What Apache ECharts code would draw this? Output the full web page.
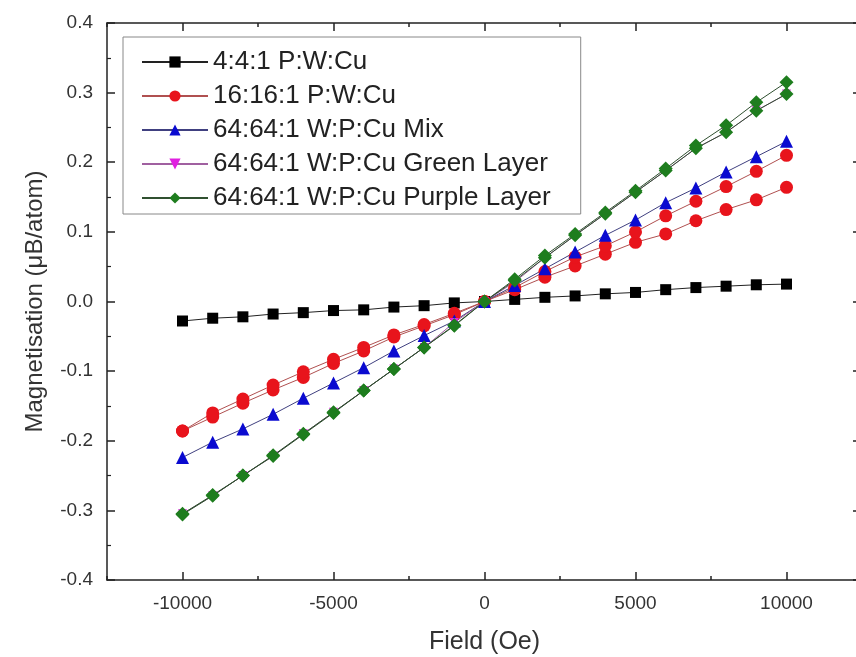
<!DOCTYPE html>
<html><head><meta charset="utf-8">
<script src="https://cdn.jsdelivr.net/npm/echarts@6/dist/echarts.min.js"></script>
<style>html,body{margin:0;padding:0;background:#fff}#c{width:856px;height:657px}</style>
</head><body><div id="c"></div>
<script>
const fields = [-10000,-9000,-8000,-7000,-6000,-5000,-4000,-3000,-2000,-1000,0,1000,2000,3000,4000,5000,6000,7000,8000,9000,10000];
const seriesNames = ["4:4:1 P:W:Cu","16:16:1 P:W:Cu","64:64:1 W:P:Cu Mix","64:64:1 W:P:Cu Green Layer","64:64:1 W:P:Cu Purple Layer"];
const xTicks = [-10000,-5000,0,5000,10000];
const yTicks = [-0.4,-0.3,-0.2,-0.1,0.0,0.1,0.2,0.3,0.4];

const black441 = [-0.028,-0.024,-0.022,-0.018,-0.016,-0.013,-0.012,-0.008,-0.006,-0.002,0,0.003,0.006,0.008,0.011,0.013,0.017,0.020,0.022,0.024,0.025];
const red16A = [-0.186,-0.166,-0.146,-0.127,-0.109,-0.089,-0.071,-0.051,-0.035,-0.019,0,0.017,0.035,0.051,0.068,0.085,0.097,0.116,0.132,0.146,0.164];
const red16B = [-0.186,-0.160,-0.140,-0.120,-0.101,-0.083,-0.066,-0.048,-0.033,-0.017,0,0.020,0.043,0.064,0.080,0.100,0.123,0.144,0.165,0.187,0.210];
const blueMix = [-0.224,-0.202,-0.183,-0.162,-0.139,-0.117,-0.095,-0.071,-0.049,-0.028,0,0.023,0.047,0.071,0.095,0.117,0.142,0.163,0.186,0.208,0.230];
const magGreen = [-0.305,-0.279,-0.250,-0.222,-0.190,-0.159,-0.128,-0.097,-0.066,-0.030,0,0.028,0.063,0.095,0.126,0.157,0.188,0.220,0.243,0.274,0.298];
const purpleA = [-0.306,-0.279,-0.250,-0.222,-0.191,-0.160,-0.128,-0.097,-0.066,-0.035,0,0.032,0.066,0.097,0.128,0.159,0.191,0.224,0.253,0.286,0.315];
const purpleB = [-0.305,-0.278,-0.250,-0.221,-0.190,-0.159,-0.128,-0.097,-0.066,-0.034,0,0.030,0.063,0.095,0.126,0.157,0.188,0.220,0.243,0.274,0.298];

const pair = arr => fields.map((x,i)=>[x,arr[i]]);
const SQ='rect', CI='circle';
const TRI='path://M5,0 L10,9 L0,9 Z';
const TRID='path://M0,0 L10,0 L5,9 Z';
const DIA='path://M5,0 L10,5 L5,10 L0,5 Z';
const FONT='Liberation Sans, Arial, sans-serif';

function mk(name, data, color, lineColor, symbol, size){
  return {name, type:'line', xAxisIndex:0, yAxisIndex:0, data:pair(data), symbol, symbolSize:size,
    itemStyle:{color}, lineStyle:{color:lineColor, width:1}, animation:false};
}
const LINE={color:'#222', width:1.5};
function xAx(pos, major, showLine, withLabels){
  const a = {type:'value', min:-12500, max:12500, interval:2500, position:pos,
    axisLine:{show:showLine, onZero:false, lineStyle:LINE},
    axisTick:{show:true, inside:true, length: major?8:4, lineStyle:LINE},
    axisLabel:{show:false}, splitLine:{show:false}};
  if (major) a.axisTick.customValues = xTicks;
  if (withLabels) {
    a.axisLabel = {show:true, customValues:xTicks, margin:14, fontFamily:FONT, fontSize:19, color:'#333',
      formatter:v=>String(v)};
    a.name='Field (Oe)'; a.nameLocation='middle'; a.nameGap=50;
    a.nameTextStyle={fontFamily:FONT, fontSize:25, color:'#333'};
  }
  return a;
}
function yAx(pos, withLabels){
  const a = {type:'value', min:-0.4, max:0.4, interval:0.1, position:pos,
    axisLine:{show:true, onZero:false, lineStyle:LINE},
    axisTick:{show:true, inside:true, length:withLabels?8:9, lineStyle:LINE},
    minorTick:{show:true, splitNumber:2, length:4, lineStyle:{color:'#222', width:1.2}},
    axisLabel:{show:false}, splitLine:{show:false}};
  if (withLabels) {
    a.axisLabel = {show:true, margin:14, fontFamily:FONT, fontSize:19, color:'#333',
      formatter:v=>{const t=yTicks.find(k=>Math.abs(k-v)<1e-9); return t===undefined?'':t.toFixed(1);}};
    a.name='Magnetisation (\u03bcB/atom)'; a.nameLocation='middle'; a.nameGap=60;
    a.nameTextStyle={fontFamily:FONT, fontSize:24, color:'#333'};
  }
  return a;
}

const chart = echarts.init(document.getElementById('c'));
chart.setOption({
  backgroundColor:'#fff',
  animation:false,
  grid:{left:107, top:23, right:-6, bottom:77, containLabel:false, outerBoundsMode:'none'},
  legend:{
    data:seriesNames, orient:'vertical', left:123, top:37,
    backgroundColor:'#fff', borderColor:'#888', borderWidth:1,
    padding:[12,30,3,18], itemWidth:66, itemHeight:14, itemGap:8,
    textStyle:{fontFamily:FONT, fontSize:26, color:'#222'}
  },
  xAxis:[xAx('bottom', false, true, true), xAx('bottom', true, false, false),
         xAx('top', false, true, false), xAx('top', true, false, false)],
  yAxis:[yAx('left', true), yAx('right', false)],
  series:[
    mk(seriesNames[0], black441, '#000000', '#222222', SQ, 11),
    mk(seriesNames[1], red16A, '#e8141c', '#b05050', CI, 13),
    mk(seriesNames[1], red16B, '#e8141c', '#b05050', CI, 13),
    mk(seriesNames[2], blueMix, '#0a0ad0', '#404080', TRI, 13),
    mk(seriesNames[3], magGreen, '#e020e0', '#a060a0', TRID, 9),
    mk(seriesNames[4], purpleB, '#1e7d1e', '#305030', DIA, 14),
    mk(seriesNames[4], purpleA, '#1e7d1e', '#305030', DIA, 14)
  ]
});
</script></body></html>
